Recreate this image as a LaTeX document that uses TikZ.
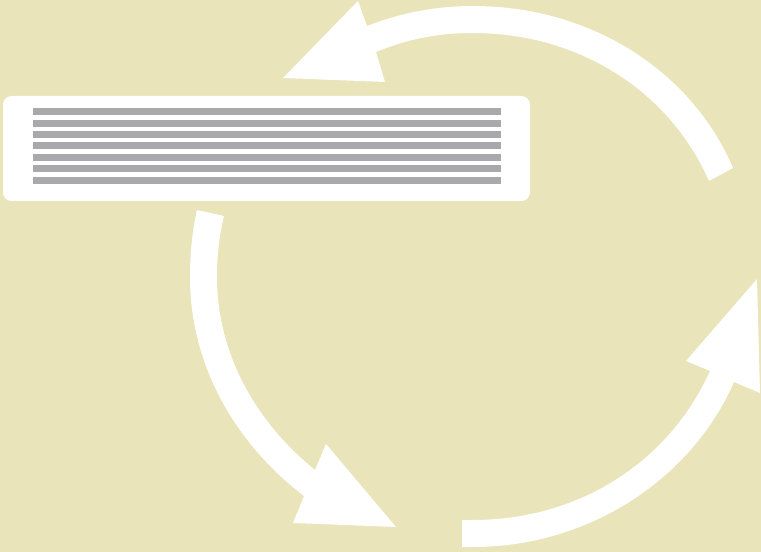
\documentclass[tikz,border=0pt]{standalone}
\tikzset{
  px/.style={x=0.75pt,y=-0.75pt},
  flow/.style={fill=white,draw=none},
  slat/.style={fill=slatgrey,draw=none},
  panel/.style={fill=white,draw=none,rounded corners=6.5pt}
}
\definecolor{sand}{HTML}{E9E4BA}
\definecolor{slatgrey}{HTML}{A9A9AC}
\begin{document}
\begin{tikzpicture}[px]
\useasboundingbox (0,0) rectangle (761,552);
\fill[sand] (0,0) rectangle (761,552);
% top arrow
\path[flow] (733,168) .. controls (691,70) and (590,6) .. (473,6)
  .. controls (436,6) and (400,13) .. (367,26)
  -- (358,1) -- (283,78) -- (385,82) -- (376,52)
  .. controls (407,39) and (439,33) .. (473,33)
  .. controls (578,33) and (669,90) .. (709,181) -- cycle;
% left arrow
\path[flow] (197,210) .. controls (192,232) and (190,254) .. (190,277)
  .. controls (190,366) and (236,444) .. (304,496)
  -- (293,523) -- (396,527) -- (326,444) -- (315,470)
  .. controls (258,424) and (217,356) .. (217,277)
  .. controls (217,256) and (219,236) .. (224,216) -- cycle;
% right arrow
\path[flow] (462,520) -- (473,520)
  .. controls (577,520) and (668,464) .. (710,371)
  -- (686,361) -- (757,279) -- (760,393) -- (734,382)
  .. controls (692,478) and (590,547) .. (473,547)
  -- (462,547) -- cycle;
% panel
\path[panel] (3,96) rectangle (530,201);
\foreach \y in {108,120,131,142,154,165,177}
  \path[slat] (33,\y) rectangle (501,\y+7);
\end{tikzpicture}
\end{document}
